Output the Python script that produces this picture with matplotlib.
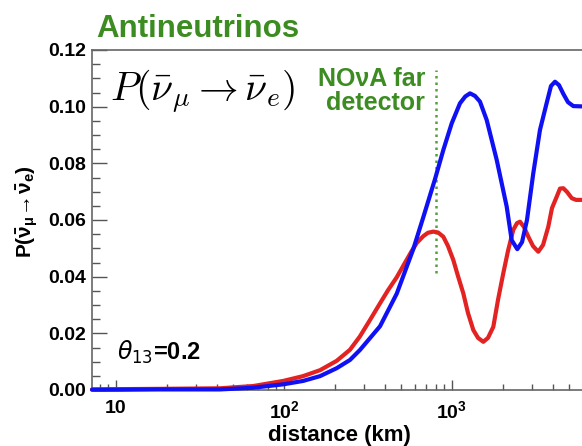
import numpy as np
import matplotlib
matplotlib.use("Agg")
import matplotlib.pyplot as plt
from matplotlib.ticker import FixedLocator, FixedFormatter, LogLocator, MultipleLocator, NullFormatter

plt.rcParams['font.family'] = ['Liberation Sans', 'DejaVu Sans']
plt.rcParams['mathtext.fontset'] = 'custom'
plt.rcParams['mathtext.rm'] = 'Liberation Sans'
plt.rcParams['mathtext.it'] = 'Liberation Sans:italic'
plt.rcParams['mathtext.bf'] = 'Liberation Sans:bold'

# oscillation probability vs baseline, theta13 = 0.2
blue_km = [7.2, 10.1, 18.3, 41.6, 65.6, 99, 130, 164, 206, 247, 283, 373, 469, 589,
           675, 793, 888, 996, 1116, 1200, 1280, 1370, 1467, 1609, 1846, 2117, 2266,
           2448, 2612, 2795, 3047, 3340, 3661, 3884, 4103, 4335, 4601, 4901, 5275, 5941]
blue_p = [0.0001, 0.0001, 0.0002, 0.0002, 0.0008, 0.0020, 0.0032, 0.0049, 0.0077,
          0.0106, 0.0141, 0.0225, 0.0340, 0.0498, 0.0610, 0.0745, 0.0847, 0.0941,
          0.1012, 0.1036, 0.1047, 0.1038, 0.1018, 0.0953, 0.0812, 0.0647, 0.0529,
          0.0497, 0.0522, 0.0600, 0.0765, 0.0918, 0.1013, 0.1073, 0.1088, 0.1076,
          0.1045, 0.1016, 0.1002, 0.1001]

red_km = [7.2, 10.1, 18.3, 41.6, 65.6, 99, 130, 164, 206, 247, 283, 325, 373, 416,
          469, 518, 575, 619, 675, 720, 774, 826, 888, 947, 1018, 1086, 1168, 1245,
          1339, 1429, 1536, 1638, 1762, 1879, 2020, 2155, 2316, 2438, 2541, 2684,
          2847, 3036, 3264, 3484, 3742, 3937, 4200, 4395, 4601, 4840, 5164, 5475, 5941]
red_p = [0.0002, 0.0003, 0.0004, 0.0006, 0.0014, 0.0032, 0.0049, 0.0070, 0.0103,
         0.0142, 0.0189, 0.0247, 0.0306, 0.0352, 0.0398, 0.0443, 0.0490, 0.0520,
         0.0543, 0.0555, 0.0559, 0.0556, 0.0541, 0.0508, 0.0459, 0.0402, 0.0341,
         0.0272, 0.0212, 0.0184, 0.0170, 0.0184, 0.0223, 0.0318, 0.0412, 0.0491,
         0.0565, 0.0589, 0.0594, 0.0575, 0.0541, 0.0508, 0.0488, 0.0512, 0.0576,
         0.0642, 0.0682, 0.0711, 0.0712, 0.0699, 0.0677, 0.0671, 0.0671]

nova_km = 800
nova_range = [0.0413, 0.1129]

xtick_vals = [10, 100, 1000]
xtick_labels = ["10", r"$\mathbf{10^{2}}$", r"$\mathbf{10^{3}}$"]

green = "#3c8c22"
W, H = 582, 446

fig = plt.figure(figsize=(W / 100, H / 100), dpi=100)
ax = fig.add_axes([92 / W, 56 / H, 490 / W, 340 / H])

ax.plot(red_km, red_p, color="#e32222", lw=3.0, clip_on=False, zorder=3,
        solid_joinstyle="round", solid_capstyle="round")
ax.plot(blue_km, blue_p, color="#1010f5", lw=3.0, clip_on=False, zorder=4,
        solid_joinstyle="round", solid_capstyle="round")
ax.vlines(nova_km, nova_range[0], nova_range[1], colors="#55a03a", lw=1.8,
          linestyles=(0, (1, 1.6)), zorder=2)

ax.set_xscale("log")
ax.set_xlim(7.2, 5941)
ax.set_ylim(0, 0.12)

ax.xaxis.set_major_locator(FixedLocator(xtick_vals))
ax.xaxis.set_major_formatter(FixedFormatter(xtick_labels))
ax.xaxis.set_minor_locator(LogLocator(base=10, subs=np.arange(2, 10)))
ax.xaxis.set_minor_formatter(NullFormatter())
ax.yaxis.set_major_locator(MultipleLocator(0.02))
ax.yaxis.set_minor_locator(MultipleLocator(0.005))
ax.yaxis.set_major_formatter(plt.FuncFormatter(lambda v, p: f"{v:.2f}"))

ax.tick_params(which="both", direction="in", colors="#555555", labelcolor="black",
               top=False, right=False)
ax.tick_params(axis="y", which="major", length=11, width=1, pad=4)
ax.tick_params(axis="y", which="minor", length=6, width=1)
ax.tick_params(axis="x", which="major", length=7.5, width=1, pad=7)
ax.tick_params(axis="x", which="minor", length=4, width=1)
for lab in ax.get_xticklabels() + ax.get_yticklabels():
    lab.set_fontweight("bold")
    lab.set_fontsize(14)

for s in ["left", "top", "bottom"]:
    ax.spines[s].set_color("#666666")
    ax.spines[s].set_linewidth(1.2)
ax.spines["right"].set_visible(False)

fig.text(339 / W, 1 - 435 / H, "distance (km)", fontsize=16, fontweight="bold",
         ha="center", va="center")
fig.text(28 / W, 1 - 212 / H,
         r"P($\mathbf{\bar{\nu}_{\mu}\!\rightarrow\!\bar{\nu}_{e}}$)",
         fontsize=15, fontweight="bold", rotation=90, ha="center", va="center")

fig.text(96 / W, 1 - 14 / H, "Antineutrinos", fontsize=22.5, fontweight="bold",
         color=green, ha="left", va="top")
fig.text(110 / W, 1 - 92 / H, r"$P(\bar{\nu}_\mu \rightarrow \bar{\nu}_e)$",
         fontsize=28.5, math_fontfamily="cm", ha="left", va="center")
fig.text(425 / W, 1 - 91 / H, "NO\u03bdA far\ndetector", fontsize=18,
         fontweight="bold", color=green, ha="right", va="center",
         multialignment="right", linespacing=1.0)
fig.text(117 / W, 1 - 352 / H, r"$\theta_{13}$=0.2", fontsize=17,
         fontweight="bold", math_fontfamily="dejavusans", ha="left", va="center")

fig.savefig("out.png", dpi=100)
